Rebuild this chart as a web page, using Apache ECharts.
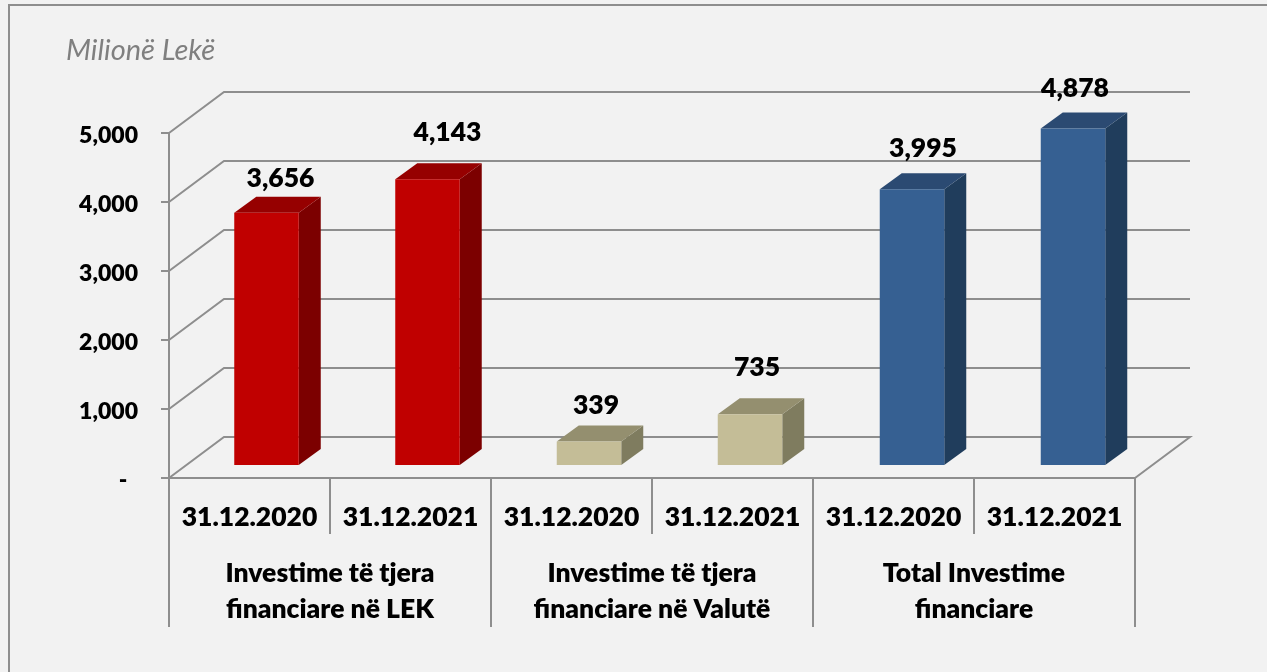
<!DOCTYPE html>
<html>
<head>
<meta charset="utf-8">
<style>html,body{margin:0;padding:0;background:#f2f2f2;}#c{width:1267px;height:672px;}</style>
<script src="https://cdn.jsdelivr.net/npm/echarts@6/dist/echarts.min.js"></script>
</head>
<body>
<div id="c"></div>
<script>
var dateLabels = ['31.12.2020','31.12.2021','31.12.2020','31.12.2021','31.12.2020','31.12.2021'];
var groupLabels = ['Investime të tjera\nfinanciare në LEK','Investime të tjera\nfinanciare në Valutë','Total Investime\nfinanciare'];
var values = [3656,4143,339,735,3995,4878];
var yTicks = [0,1000,2000,3000,4000,5000];
var frontColors = ['#c00000','#c00000','#c4bd97','#c4bd97','#366092','#366092'];
var topColors = ['#960000','#960000','#948f6f','#948f6f','#2b4a72','#2b4a72'];
var sideColors = ['#7c0000','#7c0000','#7f7c5f','#7f7c5f','#203d5c','#203d5c'];
var barNudgeX = [0,0,0.5,0.5,1.5,1.5];
var labelNudgeX = [14,20,7,7,11,2];
var labelNudgeY = [18,31,20,31,25,24];

var FONT = 'Lato, Carlito, sans-serif';
var WEIGHT = 800;
var GRID = '#8e8e8e';
var wallDX = 55, wallDY = -41;
var barW = 64.5, barOffX = 17, barOffY = -13, depthX = 22, depthY = -16;

var chart = echarts.init(document.getElementById('c'), null, {renderer:'canvas'});

function wallItem(params, api) {
  var p = api.coord([0, api.value(0)]);
  var cs = params.coordSys;
  var right = cs.x + cs.width + wallDX;
  var bx = cs.x + wallDX, by = p[1] + wallDY;
  var pts = [[cs.x, p[1]], [bx, by], [right, by]];
  if (api.value(0) === 0) pts.push([cs.x + cs.width, p[1]]);
  return {type:'polyline', shape:{points:pts}, style:{stroke:GRID, lineWidth:2, fill:null}};
}

function barItem(params, api) {
  var i = api.value(0), v = api.value(1);
  var base = api.coord([i, 0]), top = api.coord([i, v]);
  var x0 = base[0] + barOffX + barNudgeX[i] - barW/2, x1 = x0 + barW;
  var yb = base[1] + barOffY, yt = top[1] + barOffY;
  var txt = v.toLocaleString('en-US');
  return {type:'group', children:[
    {type:'polygon', shape:{points:[[x1,yt],[x1+depthX,yt+depthY],[x1+depthX,yb+depthY],[x1,yb]]}, style:{fill:sideColors[i]}},
    {type:'polygon', shape:{points:[[x0,yt],[x0+depthX,yt+depthY],[x1+depthX,yt+depthY],[x1,yt]]}, style:{fill:topColors[i]}},
    {type:'rect', shape:{x:x0,y:yt,width:barW,height:yb-yt}, style:{fill:frontColors[i]}},
    {type:'text', style:{text:txt, x:(x0+x1)/2+labelNudgeX[i], y:yt+depthY-labelNudgeY[i], align:'center', verticalAlign:'middle',
      font:WEIGHT+' 26.5px '+FONT, fill:'#000'}}
  ]};
}

chart.setOption({
  animation:false,
  backgroundColor:'#f2f2f2',
  title:{text:'Milionë Lekë', left:66, top:36, padding:0, textStyle:{fontFamily:FONT, fontStyle:'italic', fontWeight:'normal', fontSize:29, color:'#7f7f7f'}},
  grid:{left:169, top:133, width:966, height:345, containLabel:false},
  xAxis:[
    {type:'category', data:dateLabels, position:'bottom', boundaryGap:true,
      axisLine:{show:true, onZero:false, lineStyle:{color:GRID, width:2}},
      axisTick:{show:true, length:56, interval:0, lineStyle:{color:GRID, width:2}},
      axisLabel:{interval:0, margin:26, fontFamily:FONT, fontWeight:WEIGHT, fontSize:26.5, color:'#000'}},
    {type:'category', data:groupLabels, position:'bottom', boundaryGap:true,
      axisLine:{show:false, onZero:false},
      axisTick:{show:true, length:149, interval:0, lineStyle:{color:GRID, width:2}},
      axisLabel:{interval:0, margin:77, lineHeight:36, fontFamily:FONT, fontWeight:WEIGHT, fontSize:26.5, color:'#000'}}
  ],
  yAxis:{type:'value', min:0, max:5000, interval:1000,
    axisLine:{show:true, onZero:false, lineStyle:{color:GRID, width:2}},
    axisTick:{show:true, length:8, lineStyle:{color:GRID, width:2}},
    splitLine:{show:false},
    axisLabel:{margin:31, verticalAlign:'top', lineHeight:6, fontFamily:FONT, fontWeight:WEIGHT, fontSize:23, color:'#000',
      formatter:function(v){return v===0?'-  ':v.toLocaleString('en-US');}}},
  series:[
    {type:'custom', name:'walls', xAxisIndex:0, yAxisIndex:0, z:1, silent:true, clip:false,
      encode:{y:0}, data:yTicks.map(function(t){return [t];}), renderItem:wallItem},
    {type:'custom', name:'bars', xAxisIndex:0, yAxisIndex:0, z:3, silent:true, clip:false,
      encode:{x:0,y:1}, data:values.map(function(v,i){return [i,v];}), renderItem:barItem}
  ],
  graphic:[{type:'polyline', silent:true, z:100, shape:{points:[[9,672],[9,5],[1267,5]]}, style:{stroke:'#8e8e8e', lineWidth:2, fill:null}}]
});
</script>
</body>
</html>
